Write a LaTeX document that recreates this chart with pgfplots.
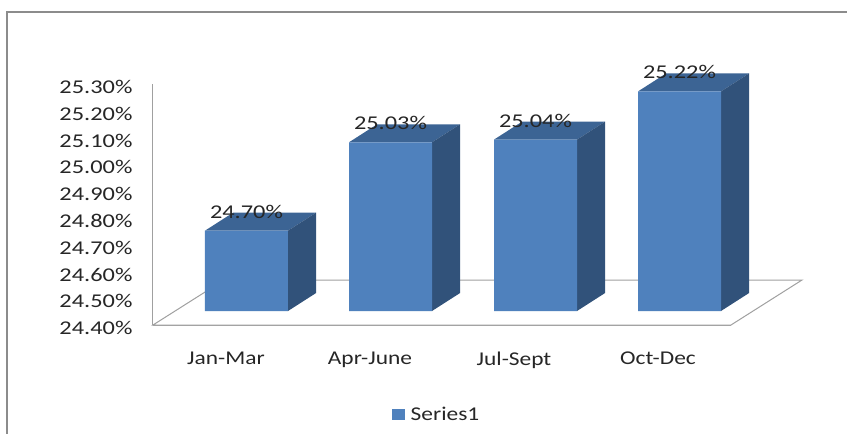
\documentclass[border=0pt]{standalone}
\usepackage{pgfplots}
\usepackage{fontspec}
\pgfplotsset{compat=1.18}
\setmainfont[FakeStretch=1.2]{Carlito}
\newfontfamily\numfont[FakeStretch=1.25]{Carlito}
\definecolor{barfront}{RGB}{79,129,189}
\definecolor{bartop}{RGB}{60,100,148}
\definecolor{barside}{RGB}{49,82,122}
\definecolor{wall}{RGB}{160,160,160}
\definecolor{frame}{RGB}{140,140,140}
\definecolor{txt}{RGB}{38,38,38}

\begin{document}
\begin{tikzpicture}[x=1pt,y=1pt]
\path[use as bounding box] (-153,-109) rectangle (694,325);
\begin{axis}[
  at={(0,0)}, anchor=origin,
  scale only axis,
  width=578pt, height=241pt,
  xmin=153, xmax=731,
  ymin=24.4, ymax=25.3,
  clip=false,
  axis x line=bottom, axis y line=left,
  axis line style={wall, line width=1pt, -},
  major tick length=0pt,
  xtick={227,371,515,659},
  xticklabels={Jan-Mar,Apr-June,Jul-Sept,Oct-Dec},
  ytick={24.4,24.5,24.6,24.7,24.8,24.9,25.0,25.1,25.2,25.3},
  yticklabels={24.40\%,24.50\%,24.60\%,24.70\%,24.80\%,24.90\%,25.00\%,25.10\%,25.20\%,25.30\%},
  tick label style={font=\fontsize{19.5}{20}\selectfont, text=txt},
  yticklabel style={xshift=-17pt, yshift=-3pt, font=\fontsize{19.5}{20}\numfont},
  xticklabel style={yshift=-23pt, xshift=-1pt},
  legend style={draw=none, fill=none, at={(0.4905,-0.361)}, anchor=center,
    font=\fontsize{19.5}{20}\selectfont, text=txt},
  legend image code/.code={\fill[barfront] (-11pt,-19.5pt) rectangle (2pt,-8.5pt);\path (6pt,0pt);},
]
% floor
\addplot[wall, line width=1pt, fill=white, forget plot]
  coordinates {(153,24.4)(731,24.4)(802,24.568)(224,24.568)} -- cycle;

% top and side faces
\addplot[fill=bartop, draw=none, yshift=14pt, forget plot]
  coordinates {(205,24.70)(288,24.70)(316,24.767)(233,24.767)} -- cycle;
\addplot[fill=barside, draw=none, yshift=14pt, forget plot]
  coordinates {(288,24.40)(316,24.467)(316,24.767)(288,24.70)} -- cycle;
\addplot[fill=bartop, draw=none, yshift=14pt, forget plot]
  coordinates {(349,25.03)(432,25.03)(460,25.097)(377,25.097)} -- cycle;
\addplot[fill=barside, draw=none, yshift=14pt, forget plot]
  coordinates {(432,24.40)(460,24.467)(460,25.097)(432,25.03)} -- cycle;
\addplot[fill=bartop, draw=none, yshift=14pt, forget plot]
  coordinates {(494,25.04)(577,25.04)(605,25.107)(522,25.107)} -- cycle;
\addplot[fill=barside, draw=none, yshift=14pt, forget plot]
  coordinates {(577,24.40)(605,24.467)(605,25.107)(577,25.04)} -- cycle;
\addplot[fill=bartop, draw=none, yshift=14pt, forget plot]
  coordinates {(638,25.22)(721,25.22)(749,25.287)(666,25.287)} -- cycle;
\addplot[fill=barside, draw=none, yshift=14pt, forget plot]
  coordinates {(721,24.40)(749,24.467)(749,25.287)(721,25.22)} -- cycle;

% front faces with value labels
\addplot[ybar, bar width=83pt, fill=barfront, draw=none, yshift=14pt,
  nodes near coords={\pgfmathprintnumber[fixed,fixed zerofill,precision=2,assume math mode=true]{\pgfplotspointmeta}\%},
  nodes near coords style={anchor=center, yshift=19pt, text=txt, font=\fontsize{19.5}{20}\numfont},
  point meta=y]
  coordinates {(246.5,24.70)(390.5,25.03)(535.5,25.04)(679.5,25.22)};
\addlegendentry{Series1}
\end{axis}
% outer frame of the chart
\draw[frame, line width=1.2pt] (-146,-109) -- (-146,313) -- (694,313);
\end{tikzpicture}
\end{document}
